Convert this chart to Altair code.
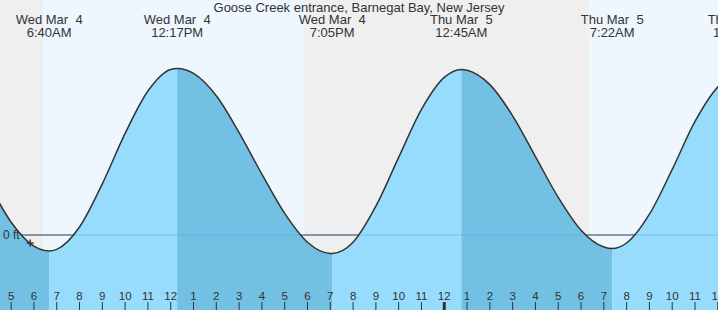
import altair as alt
import pandas as pd

TITLE = "Goose Creek entrance, Barnegat Bay, New Jersey"

# High / low tide events (local time) and heights in feet
EXTREMA_TIME = ["2026-03-04T00:24", "2026-03-04T06:40", "2026-03-04T12:17",
                "2026-03-04T19:05", "2026-03-05T00:45", "2026-03-05T07:22",
                "2026-03-05T12:56"]
EXTREMA_FT = [2.00, -0.20, 2.08, -0.23, 2.07, -0.17, 2.00]

# Hourly tide heights (ft), Mar 4 01:00 .. Mar 5 12:00
HOURLY_TIME = ([f"2026-03-04T{h:02d}:00" for h in range(1, 24)] +
               [f"2026-03-05T{h:02d}:00" for h in range(0, 13)])
HOURLY_FT = [1.95, 1.67, 1.19, 0.65, 0.16, -0.14, -0.18, 0.10, 0.64, 1.27,
             1.80, 2.07, 2.02, 1.74, 1.28, 0.76, 0.27, -0.09, -0.23, -0.09,
             0.36, 0.97, 1.57, 1.97, 2.06, 1.88, 1.49, 0.98, 0.47, 0.06,
             -0.15, -0.10, 0.26, 0.82, 1.42, 1.85]

# Day / night bands (sunrise, sunset)
BAND_START = ["2026-03-04T00:00", "2026-03-04T06:24", "2026-03-04T17:51", "2026-03-05T06:21"]
BAND_END = ["2026-03-04T06:24", "2026-03-04T17:51", "2026-03-05T06:21", "2026-03-05T18:00"]
BAND_KIND = ["night", "day", "night", "day"]

# Hour ticks along the bottom
TICK_TIME = pd.date_range("2026-03-04 05:00", "2026-03-05 12:00", freq="h")

# Current time marker
NOW_TIME = ["2026-03-04T05:50"]
NOW_FT = [-0.10]

ZERO_FT = [0]
ZERO_LABEL = ["0 ft"]

Y_MIN, Y_MAX = -0.9375, 2.9375

NIGHT = "#efefef"
DAY = "#eef6fe"
RISING = "#97dcfc"
FALLING = "#72c0e4"
INK = "#333333"
FONT = "Liberation Sans"

ext = pd.DataFrame({"t": pd.to_datetime(EXTREMA_TIME), "ft": EXTREMA_FT})
ext["line1"] = [d.strftime("%a %b ") + "\u00a0" + str(d.day) if d.day < 10 else d.strftime("%a %b %d")
                for d in ext.t]
ext["line2"] = [d.strftime("%I:%M%p").lstrip("0") for d in ext.t]

hr = pd.DataFrame({"t": pd.to_datetime(HOURLY_TIME), "ft": HOURLY_FT})
allpts = pd.concat([ext[["t", "ft"]], hr]).sort_values("t").reset_index(drop=True)

segs = []
for i in range(len(ext) - 1):
    a, b = ext.iloc[i], ext.iloc[i + 1]
    s = allpts[(allpts.t >= a.t) & (allpts.t <= b.t)].copy()
    s["seg"] = i
    s["phase"] = "rising" if b.ft > a.ft else "falling"
    segs.append(s)
water = pd.concat(segs).reset_index(drop=True)

bands = pd.DataFrame({"start": pd.to_datetime(BAND_START),
                      "end": pd.to_datetime(BAND_END), "kind": BAND_KIND})
ticks_df = pd.DataFrame({"t": TICK_TIME})
ticks_df["label"] = [str(d.hour % 12 or 12) for d in TICK_TIME]
ticks_df["major"] = [d.hour == 0 for d in TICK_TIME]
now = pd.DataFrame({"t": pd.to_datetime(NOW_TIME), "ft": NOW_FT})
zero = pd.DataFrame({"ft": ZERO_FT, "label": ZERO_LABEL})
title_df = pd.DataFrame({"title": [TITLE]})

xs = alt.Scale(domain=[alt.DateTime(year=2026, month=3, date=4, hours=4, minutes=30, seconds=40),
                       alt.DateTime(year=2026, month=3, date=5, hours=12, minutes=0, seconds=30)],
               nice=False)
ys = alt.Scale(domain=[Y_MIN, Y_MAX], nice=False, zero=False)

X_T = alt.X("t:T", scale=xs, axis=None)
Y_FT = alt.Y("ft:Q", scale=ys, axis=None)

sky = alt.Chart(bands).mark_rect(clip=True).encode(
    x=alt.X("start:T", scale=xs, axis=None),
    x2="end:T",
    y=alt.Y(datum=Y_MAX, scale=ys, axis=None),
    y2=alt.datum(Y_MIN),
    color=alt.Color("kind:N", scale=alt.Scale(domain=["night", "day"], range=[NIGHT, DAY]), legend=None),
)

zero_dark = alt.Chart(zero).mark_rule(color=INK, strokeWidth=1).encode(y=Y_FT)

area = alt.Chart(water).mark_area(interpolate="monotone", clip=True).encode(
    x=X_T,
    y=Y_FT,
    y2=alt.datum(Y_MIN),
    color=alt.Color("phase:N", scale=alt.Scale(domain=["rising", "falling"], range=[RISING, FALLING]), legend=None),
    detail="seg:N",
)

zero_faint = alt.Chart(zero).mark_rule(color="#5aaedc", opacity=0.5, strokeWidth=1).encode(y=Y_FT)

line = alt.Chart(allpts).mark_line(interpolate="monotone", clip=True, color=INK, strokeWidth=1.5).encode(
    x=X_T, y=Y_FT)

tick_marks = alt.Chart(ticks_df).mark_rule(color=INK).encode(
    x=X_T, y=alt.value(302), y2=alt.value(310),
    strokeWidth=alt.condition("datum.major", alt.value(3), alt.value(1)),
)
tick_labels = alt.Chart(ticks_df).mark_text(font=FONT, fontSize=11.5, color=INK,
                                            baseline="alphabetic", align="center").encode(
    x=X_T, y=alt.value(300), text="label:N")

zero_text = alt.Chart(zero).mark_text(align="left", baseline="middle", font=FONT,
                                      fontSize=12, color=INK).encode(
    x=alt.value(3), y=Y_FT, text="label:N")

marker = alt.Chart(now).mark_point(shape="M-1,0L1,0M0,-1L0,1", size=49, filled=False,
                                   color=INK, strokeWidth=1.5, opacity=1).encode(x=X_T, y=Y_FT)

lab1 = alt.Chart(ext).mark_text(font=FONT, fontSize=13, color=INK, baseline="alphabetic", align="center").encode(
    x=X_T, y=alt.value(23.5), text="line1:N")
lab2 = alt.Chart(ext).mark_text(font=FONT, fontSize=13, color=INK, baseline="alphabetic", align="center").encode(
    x=X_T, y=alt.value(36.5), text="line2:N")

title = alt.Chart(title_df).mark_text(font=FONT, fontSize=13, color=INK, baseline="alphabetic",
                                      align="center").encode(
    x=alt.value(359), y=alt.value(12), text="title:N")

chart = alt.layer(sky, zero_dark, area, zero_faint, line, tick_marks, tick_labels,
                  zero_text, marker, lab1, lab2, title).resolve_scale(
    color="independent"
).properties(
    width=718, height=310, padding=0, autosize=alt.AutoSizeParams(type="none"),
    background="white",
).configure_view(strokeWidth=0)

chart.save("out.html", embed_options={"renderer": "svg", "actions": False})
